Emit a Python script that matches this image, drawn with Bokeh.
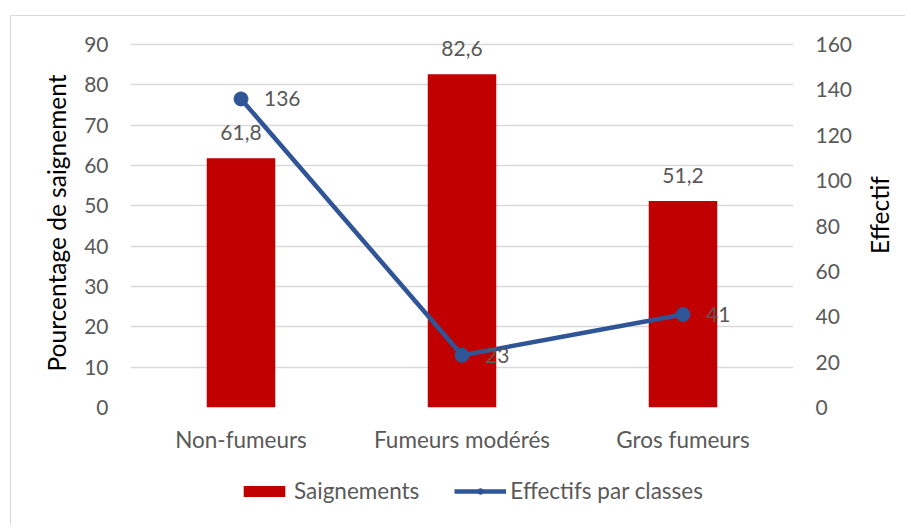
import math
from bokeh.plotting import figure
from bokeh.layouts import column, row
from bokeh.models import (Range1d, LinearAxis, FixedTicker, ColumnDataSource, LabelSet, Label,
                          Legend, LegendItem, FactorRange)
from bokeh.core.properties import value
from bokeh.embed import file_html
from bokeh.resources import INLINE

categories = ["Non-fumeurs", "Fumeurs modérés", "Gros fumeurs"]
saignements = [61.8, 82.6, 51.2]
saignements_labels = ["61,8", "82,6", "51,2"]
effectifs = [136, 23, 41]
effectifs_labels = ["136", "23", "41"]
left_ticks = list(range(0, 91, 10))
right_ticks = list(range(0, 161, 20))
left_max = 91.488     # a little head-room above 90 so the "82,6" label is not cut
right_max = 162.645   # same head-room on the 0-160 scale

FONT = "Lato"
FS_NUM = "21px"
FS_TXT = "22.5px"
FS_AX = "24.5px"
TXT = "#595959"
RED = "#C00000"
BLUE = "#2F5597"

# ---------------- main chart ----------------
p = figure(x_range=FactorRange(*categories), y_range=Range1d(0, left_max),
           frame_width=663, frame_height=369,
           min_border_left=119, min_border_right=60, min_border_top=22, min_border_bottom=48,
           output_backend="svg", toolbar_location=None, background_fill_color="white",
           border_fill_color="white")
p.outline_line_color = None
p.extra_y_ranges = {"right": Range1d(0, right_max)}

bar_src = ColumnDataSource(dict(x=categories, y=saignements, lab=saignements_labels))
line_src = ColumnDataSource(dict(x=categories, y=effectifs, lab=effectifs_labels))

p.vbar(x="x", top="y", width=0.31, source=bar_src, fill_color=RED, line_color=None)
p.line(x="x", y="y", source=line_src, line_color=BLUE, line_width=4.5, y_range_name="right")
p.scatter(x="x", y="y", source=line_src, size=14, fill_color=BLUE, line_color=BLUE,
          y_range_name="right")

p.add_layout(LabelSet(x="x", y="y", text="lab", source=bar_src, text_align="center",
                      text_baseline="alphabetic", y_offset=18, text_font=value(FONT),
                      text_font_size=value(FS_NUM), text_color=TXT))
p.add_layout(LabelSet(x="x", y="y", text="lab", source=line_src, text_align="left",
                      text_baseline="middle", x_offset=23, text_font=value(FONT),
                      text_font_size=value(FS_NUM), text_color=TXT, y_range_name="right"))

p.xgrid.grid_line_color = None
p.ygrid.grid_line_color = "#D9D9D9"
p.ygrid.grid_line_width = 1.3
p.ygrid.ticker = FixedTicker(ticks=left_ticks)

ry = LinearAxis(y_range_name="right", ticker=FixedTicker(ticks=right_ticks))
p.add_layout(ry, "right")

for ax in [p.xaxis[0], p.yaxis[0], ry]:
    ax.axis_line_color = None
    ax.major_tick_line_color = None
    ax.minor_tick_line_color = None
    ax.major_tick_out = 0
    ax.major_tick_in = 0
    ax.major_label_text_font = FONT
    ax.major_label_text_font_size = FS_NUM
    ax.major_label_text_color = TXT
    ax.axis_label_text_font = FONT
    ax.axis_label_text_font_size = FS_AX
    ax.axis_label_text_font_style = "normal"
    ax.axis_label_text_color = "black"

p.yaxis[0].ticker = FixedTicker(ticks=left_ticks)
p.yaxis[0].major_label_standoff = 22
p.yaxis[0].axis_label = "Pourcentage de saignement"
p.yaxis[0].axis_label_standoff = 10
p.xaxis[0].major_label_standoff = 18
p.xaxis[0].major_label_text_font_size = FS_TXT
ry.major_label_standoff = 22

# ---------------- right-hand axis title ----------------
p3 = figure(width=50, height=439, x_range=Range1d(0, 50), y_range=Range1d(0, 439),
            min_border=0, x_axis_location=None, y_axis_location=None,
            output_backend="svg", toolbar_location=None)
p3.outline_line_color = None
p3.grid.visible = False
p3.add_layout(Label(x=24, y=229, text="Effectif", angle=math.pi / 2, text_align="center",
                    text_baseline="middle", text_font=FONT, text_font_size=FS_AX,
                    text_color="black"))

# ---------------- legend strip ----------------
p2 = figure(width=892, height=70, x_range=Range1d(0, 892), y_range=Range1d(0, 70),
            min_border=0, x_axis_location=None, y_axis_location=None,
            output_backend="svg", toolbar_location=None)
p2.outline_line_color = None
p2.grid.visible = False
# legend-only renderers (their single point lies outside the visible strip)
lg_bar = p2.vbar(x=[-500], top=[-500], width=1, fill_color=RED, line_color=None)
lg_line = p2.line(x=[-500, -490], y=[-500, -500], line_color=BLUE, line_width=4.5)
lg_pt = p2.scatter(x=[-500], y=[-500], size=14, fill_color=BLUE, line_color=BLUE)
legend = Legend(items=[LegendItem(label="Saignements", renderers=[lg_bar]),
                       LegendItem(label="Effectifs par classes", renderers=[lg_line, lg_pt])],
                orientation="horizontal", location=(227, 21),
                glyph_width=52, glyph_height=14, label_standoff=4, spacing=35,
                padding=0, margin=0, background_fill_alpha=0, border_line_color=None,
                label_text_font=FONT, label_text_font_size=FS_TXT, label_text_color=TXT)
p2.add_layout(legend, "center")

layout = column(row(p, p3, spacing=0), p2, spacing=0)
layout.margin = (15, 0, 0, 10)
layout.styles = {"border-left": "1px solid #D9D9D9", "border-top": "1px solid #D9D9D9"}

open("out.html", "w").write(file_html(layout, INLINE))
